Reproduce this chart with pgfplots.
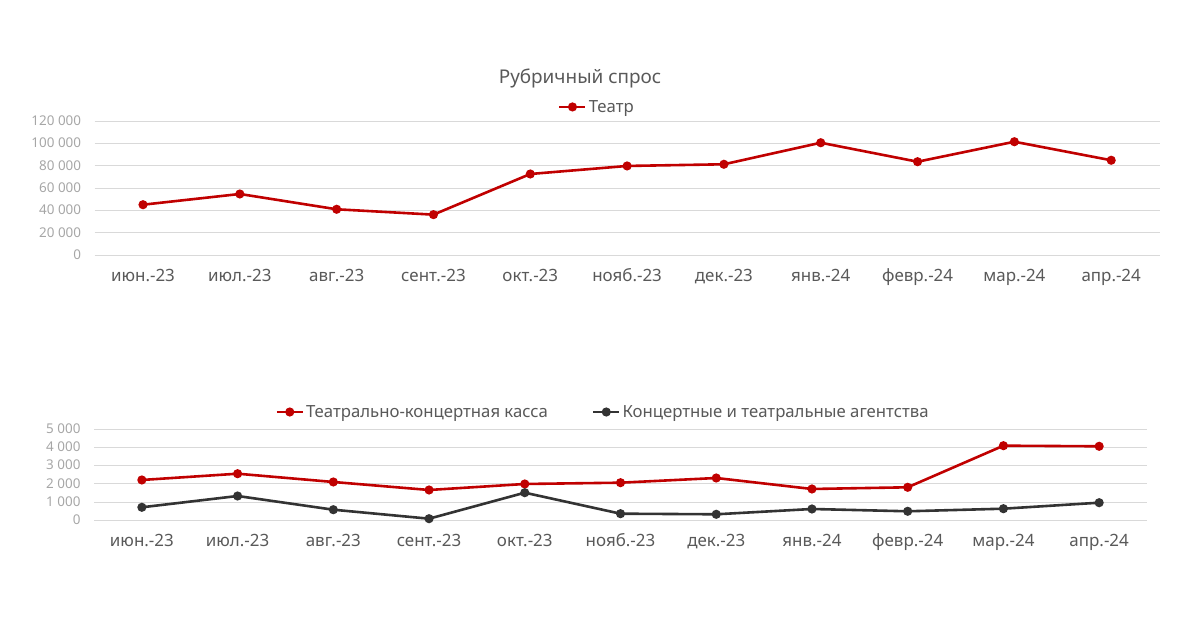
\documentclass[border=0pt]{standalone}
\usepackage{pgfplots}
\pgfplotsset{compat=1.18}
\usepackage{fontspec}
\setmainfont{Noto Sans}
\definecolor{cred}{HTML}{C00000}
\definecolor{cdark}{HTML}{333333}
\definecolor{cgrid}{HTML}{D9D9D9}
\definecolor{ctxt}{HTML}{595959}
\definecolor{cytick}{HTML}{A6A6A6}
\pgfplotsset{
  rub/.style={
    scale only axis,
    xmin=-0.5, xmax=10.5,
    xtick={0,...,10},
    xticklabels={июн.-23,июл.-23,авг.-23,сент.-23,окт.-23,нояб.-23,дек.-23,янв.-24,февр.-24,мар.-24,апр.-24},
    axis line style={draw=none},
    major tick length=0pt,
    ymajorgrids,
    scaled y ticks=false,
    grid style={cgrid, line width=1bp},
    /pgf/number format/assume math mode=true,
    typeset ticklabels with strut,
    xticklabel style={font=\fontsize{17}{20}\selectfont, text=ctxt, yshift=-9bp},
    yticklabel style={font=\fontsize{13.5}{16}\selectfont, text=cytick, xshift=-10bp, yshift=-1bp},
    legend style={draw=none, fill=none, font=\fontsize{16.8}{20}\selectfont, text=ctxt,
      legend cell align=left},
    legend image code/.code={%
      \draw[mark repeat=2, mark phase=2, line width=2.6bp]
        plot coordinates {(0bp,0bp) (13bp,0bp) (26bp,0bp)};},
  },
  ser/.style={#1, line width=2.6bp, mark=*, mark size=3.2bp, mark options={fill=#1, draw=#1}},
}
\begin{document}
\begin{tikzpicture}[x=1bp,y=1bp]
\useasboundingbox (0,0) rectangle (1200,630);
\node[text=ctxt, font=\fontsize{19}{23}\selectfont] at (580,552) {Рубричный спрос};

\begin{axis}[rub, at={(94.6bp,374.7bp)}, anchor=south west,
  width=1065bp, height=134bp,
  ymin=0, ymax=120000,
  ytick={0,20000,40000,60000,80000,100000,120000},
  yticklabels={0,20 000,40 000,60 000,80 000,100 000,120 000},
  legend style={at={(0.4717,1.107)}, anchor=center},
]
\addplot[ser=cred] coordinates {
  (0,45300) (1,54900) (2,41200) (3,36400) (4,72800) (5,80000)
  (6,81500) (7,100800) (8,83800) (9,101700) (10,85100)};
\addlegendentry{Театр}
\end{axis}

\begin{axis}[rub, at={(94bp,109.7bp)}, anchor=south west,
  width=1053bp, height=91bp,
  ymin=0, ymax=5000,
  ytick={0,1000,2000,3000,4000,5000},
  yticklabels={0,1 000,2 000,3 000,4 000,5 000},
  legend columns=2,
  legend style={at={(0.4834,1.19)}, anchor=center,
    /tikz/every even column/.append style={column sep=42bp}},
]
\addplot[ser=cred] coordinates {
  (0,2215) (1,2560) (2,2105) (3,1665) (4,1995) (5,2066)
  (6,2324) (7,1720) (8,1813) (9,4099) (10,4066)};
\addlegendentry{Театрально-концертная касса}
\addplot[ser=cdark] coordinates {
  (0,714) (1,1335) (2,582) (3,88) (4,1517) (5,363)
  (6,330) (7,621) (8,495) (9,637) (10,967)};
\addlegendentry{Концертные и театральные агентства}
\end{axis}
\end{tikzpicture}
\end{document}
